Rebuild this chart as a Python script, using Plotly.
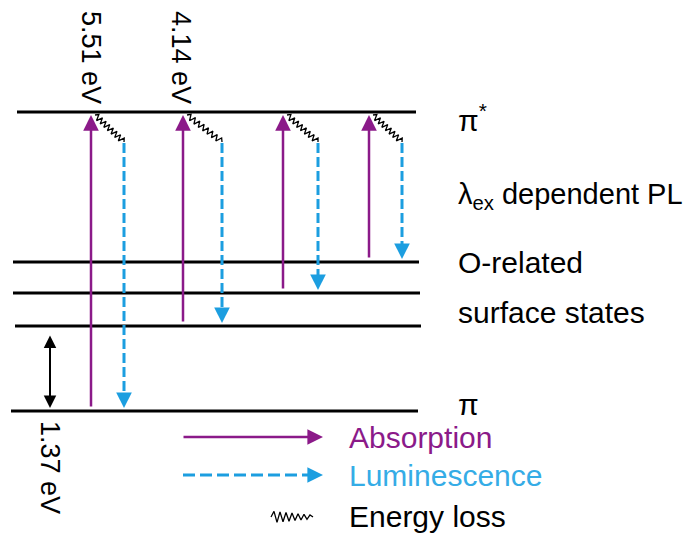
import numpy as np
import plotly.graph_objects as go

# ---------------- data ----------------
# Schematic energy levels (vertical coordinate of the diagram, top = high energy)
level_names = ["π*", "O-related 1", "O-related 2", "O-related 3", "π"]
level_y = [112, 262, 293, 326, 411]
level_x_start = [17, 13, 13, 15, 11]
level_x_end = [416, 419, 420, 421, 418]

# Absorption transitions (from a lower level up to π*)
absorption_x = [91, 183, 283, 369]
absorption_from = [4, 3, 2, 1]

# Luminescence transitions (from relaxed π* state down to a lower level)
luminescence_x = [124, 222, 318, 402]
luminescence_to = [4, 3, 2, 1]
luminescence_top = 143

# Energy labels
energy_labels = ["5.51 eV", "4.14 eV"]
energy_label_x = [91, 181]
gap_label = "1.37 eV"
gap_x = 50
gap_from, gap_to = 3, 4

right_labels = ["π<sup>*</sup>", "λ<sub>ex</sub> dependent PL", "O-related", "surface states", "π"]
right_label_y = [118, 196, 262, 312, 404]
right_label_size = [30, 29, 30, 30, 30]

legend_labels = ["Absorption", "Luminescence", "Energy loss"]
legend_y = [437, 475, 516]

PURPLE = "#8B1A89"
BLUE = "#1C9EE0"
BLUE_TXT = "#35ACE6"
FONT = "Liberation Sans, Arial, sans-serif"
GAP = 3


def zigzag(x0, y0, x1, y1, n, amp, decay=0.0):
    t = np.linspace(0, 1, 2 * n + 1)
    dx, dy = x1 - x0, y1 - y0
    L = np.hypot(dx, dy)
    px, py = -dy / L, dx / L
    sign = np.array([0] + [(-1) ** i for i in range(1, 2 * n)] + [0], dtype=float)
    a = amp * (1 - decay * t)
    xs = x0 + dx * t + px * sign * a
    ys = y0 + dy * t + py * sign * a
    return list(xs), list(ys)


fig = go.Figure()
annotations = []

# energy levels
lx, ly = [], []
for y, xa, xb in zip(level_y, level_x_start, level_x_end):
    lx += [xa, xb, None]
    ly += [y, y, None]
fig.add_trace(go.Scatter(x=lx, y=ly, mode="lines", line=dict(color="black", width=3),
                         hoverinfo="skip", showlegend=False))

top = level_y[0]

# absorption arrows
for x, fi in zip(absorption_x, absorption_from):
    annotations.append(dict(x=x, y=top + GAP, ax=x, ay=level_y[fi] - GAP, xref="x", yref="y",
                            axref="x", ayref="y", text="", showarrow=True, arrowhead=2,
                            arrowsize=1.25, arrowwidth=2.5, arrowcolor=PURPLE))

# luminescence arrows (dashed shaft + solid head)
for x, ti in zip(luminescence_x, luminescence_to):
    yend = level_y[ti] - GAP
    fig.add_trace(go.Scatter(x=[x, x], y=[luminescence_top, yend - 8], mode="lines",
                             line=dict(color=BLUE, width=3, dash="10px,4px"),
                             hoverinfo="skip", showlegend=False))
    annotations.append(dict(x=x, y=yend, ax=x, ay=yend - 12, xref="x", yref="y",
                            axref="x", ayref="y", text="", showarrow=True, arrowhead=2,
                            arrowsize=1.25, arrowwidth=2.5, arrowcolor=BLUE))

# energy-loss wavy lines
wx, wy = [], []
for xa, xl in zip(absorption_x, luminescence_x):
    zx, zy = zigzag(xa + 4, top + 3, xl, luminescence_top - 1, 8, 3.0)
    wx += zx + [None]
    wy += zy + [None]
fig.add_trace(go.Scatter(x=wx, y=wy, mode="lines", line=dict(color="black", width=1.3),
                         hoverinfo="skip", showlegend=False))

# 1.37 eV double arrow
annotations.append(dict(x=gap_x, y=level_y[gap_to] - GAP, ax=gap_x, ay=level_y[gap_from] + 8,
                        xref="x", yref="y", axref="x", ayref="y", text="", showarrow=True,
                        arrowhead=2, startarrowhead=2, arrowside="end+start", arrowsize=1.25,
                        startarrowsize=1.25, arrowwidth=2, arrowcolor="black"))

# rotated energy labels
for t, x in zip(energy_labels, energy_label_x):
    annotations.append(dict(x=x, y=57, xref="x", yref="y", text=t,
                            showarrow=False, textangle=90,
                            font=dict(family=FONT, size=27, color="black")))
annotations.append(dict(x=gap_x, y=467, xref="x", yref="y", text=gap_label,
                        showarrow=False, textangle=90,
                        font=dict(family=FONT, size=27, color="black")))

# right-hand labels
for t, y, s in zip(right_labels, right_label_y, right_label_size):
    annotations.append(dict(x=456, y=y, xref="x", yref="y", text=t,
                            showarrow=False, xanchor="left", yanchor="middle",
                            font=dict(family=FONT, size=s, color="black")))

# legend
annotations.append(dict(x=323, y=legend_y[0], ax=182, ay=legend_y[0], xref="x", yref="y",
                        axref="x", ayref="y", text="", showarrow=True, arrowhead=2,
                        arrowsize=1.25, arrowwidth=2.5, arrowcolor=PURPLE))
fig.add_trace(go.Scatter(x=[183, 311], y=[legend_y[1], legend_y[1]], mode="lines",
                         line=dict(color=BLUE, width=3, dash="12px,5px"),
                         hoverinfo="skip", showlegend=False))
annotations.append(dict(x=323, y=legend_y[1], ax=309, ay=legend_y[1], xref="x", yref="y",
                        axref="x", ayref="y", text="", showarrow=True, arrowhead=2,
                        arrowsize=1.25, arrowwidth=2.5, arrowcolor=BLUE))
zx, zy = zigzag(271, legend_y[2] + 1, 313, legend_y[2] + 1, 7, 6, decay=0.7)
fig.add_trace(go.Scatter(x=zx, y=zy, mode="lines", line=dict(color="black", width=1.3),
                         hoverinfo="skip", showlegend=False))
for t, y, c in zip(legend_labels, legend_y, [PURPLE, BLUE_TXT, "black"]):
    annotations.append(dict(x=347, y=y, xref="x", yref="y", text=t,
                            showarrow=False, xanchor="left", yanchor="middle",
                            font=dict(family=FONT, size=30, color=c)))

fig.update_layout(
    width=694, height=533,
    margin=dict(l=0, r=0, t=0, b=0),
    paper_bgcolor="white", plot_bgcolor="white",
    xaxis=dict(range=[0, 694], visible=False, fixedrange=True),
    yaxis=dict(range=[533, 0], visible=False, fixedrange=True),
    annotations=annotations,
    showlegend=False,
)

fig.write_html("out.html", config={"displayModeBar": False},
               post_script="document.body.style.margin='0';document.body.style.overflow='hidden';")
